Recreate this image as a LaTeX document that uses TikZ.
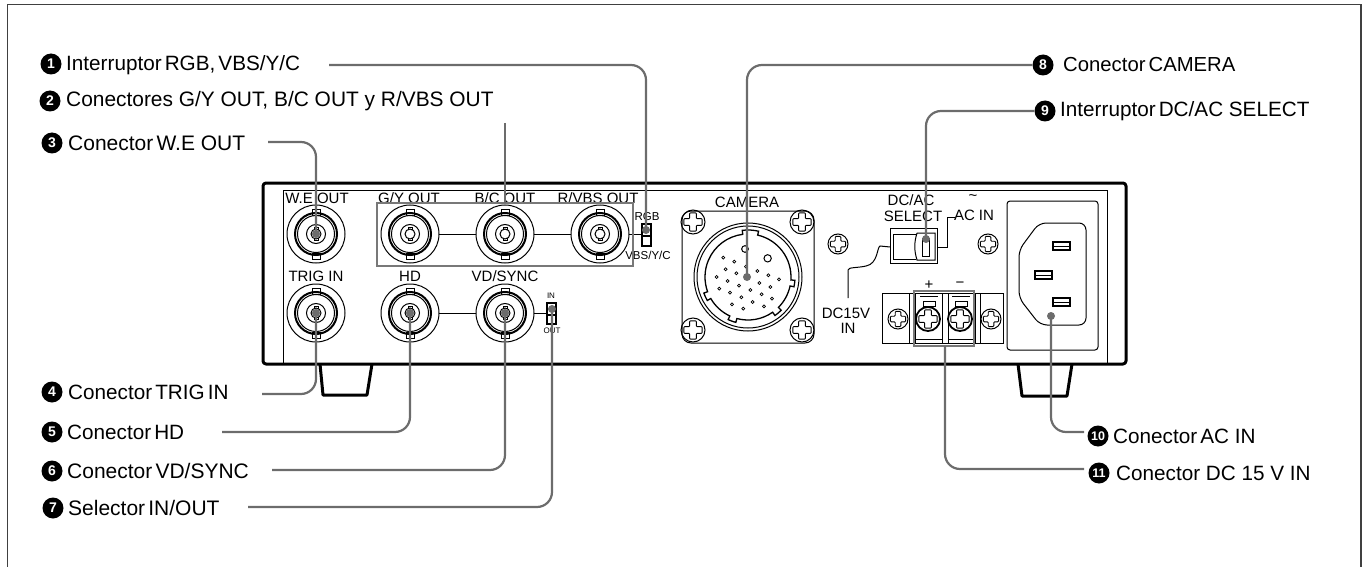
\documentclass[tikz,border=0pt]{standalone}
\usepackage{fontspec}
\setmainfont{Liberation Sans}
\newcommand{\fs}[1]{\fontsize{#1}{#1}\selectfont}
\newcommand{\nsp}{\kern .15em\relax}
\tikzset{
  x=1pt,y=-1pt,
  thinl/.style={draw=black,line width=1pt},
  chassis/.style={draw=black,line width=3pt,line join=round},
  leader/.style={draw=leadgray,line width=2.2pt,rounded corners=15pt},
  groupbox/.style={draw=boxgray,line width=2.5pt},
  dot/.style={circle,fill=leadgray,inner sep=0pt,minimum size=8pt},
  numdot/.style={circle,fill=black,text=white,inner sep=0pt,minimum size=21pt,font=\fs{14}\bfseries},
  numdotb/.style={numdot,font=\fs{12.5}\bfseries},
  lbl/.style={anchor=west,inner sep=0pt,font=\fs{20.7}},
  part/.style={inner sep=0pt,font=\fs{15}},
  small/.style={inner sep=0pt,font=\fs{11.5}},
  tiny/.style={inner sep=0pt,font=\fs{8}},
}
\definecolor{leadgray}{HTML}{6C6C6C}
\definecolor{boxgray}{HTML}{787878}
\newcommand{\bncon}[3]{%
  \begin{scope}[shift={(#2,#3)}]
    \draw[thinl] (-4,-25) rectangle (4,-19) (-4,19) rectangle (4,25);
    \draw[thinl,fill=white] (0,0) circle[radius=18.5];
    \draw[thinl] (0,0) circle[radius=29];
    \draw[draw=black,line width=2pt] (0,0) circle[radius=21];
    \draw[thinl] (0,0) circle[radius=9.5];
    \draw[thinl] (-2,-6.5) rectangle (2,-4.5) (-2,4.5) rectangle (2,6.5);
    \draw[thinl,fill=white] (0,0) circle[radius=5];
    \coordinate (#1) at (0,0);
  \end{scope}}
\newcommand{\screw}[4]{% x y r width
  \begin{scope}[shift={(#1,#2)},scale=#3]
    \draw[draw=black,line width=#4pt] (0,0) circle[radius=1];
    \draw[draw=black,line width=0.9pt,rounded corners=0.8pt,line join=round]
      (-.28,-.76)--(.28,-.76)--(.28,-.28)--(.76,-.28)--(.76,.28)--(.28,.28)--(.28,.76)--(-.28,.76)--(-.28,.28)--(-.76,.28)--(-.76,-.28)--(-.28,-.28)--cycle;
  \end{scope}}
\begin{document}
\begin{tikzpicture}
\useasboundingbox (0,0) rectangle (1363,567);
\draw[draw=black!75,line width=1.5pt] (7.5,569) -- (7.5,4.5) -- (1361,4.5) -- (1361,569);
% feet
\draw[chassis] (320,364) -- (323,395) -- (367,395) -- (372,364);
\draw[chassis] (1018,364) -- (1022,396) -- (1067,396) -- (1072,364);
% body
\draw[chassis,rounded corners=3pt,fill=white] (263,183) rectangle (1126,364);
\draw[thinl] (283,364) -- (283,190) -- (1107,190) -- (1107,364);
% BNC connectors
\bncon{we}{316}{234}
\bncon{gy}{410}{234}
\bncon{bc}{505}{234}
\bncon{rv}{600}{234}
\bncon{tr}{316}{313}
\bncon{hd}{410}{313}
\bncon{vd}{505}{313}
\draw[thinl] (439,234) -- (476,234) (534,234) -- (571,234) (629,234) -- (642,234);
\draw[thinl] (439,313) -- (476,313) (534,313) -- (547,313)  ;
% labels on the panel
\node[part] (twe) at (317,198) {W.E OUT};
\node[part] (tgy) at (409,198) {G/Y OUT};
\node[part] (tbc) at (505,198) {B/C OUT};
\node[part] (trv) at (598,198) {R/VBS OUT};
\node[part] (ttr) at (316,276) {TRIG IN};
\node[part] (thd) at (410,276) {HD};
\node[part] (tvd) at (505,276) {VD/SYNC};
\node[small] (trgb) at (647,217) {RGB};
\node[small] (tvbs) at (648,255) {VBS/Y/C};
\node[tiny] (tin) at (551,296) {IN};
\node[tiny] (tout) at (552,331) {OUT};
\draw[groupbox] (377,203) rectangle (633,266);
% slide switches
\draw[draw=black,line width=1.3pt] (642,224) rectangle (651,246) (642,236) -- (651,236);
\draw[draw=black,line width=1.3pt] (547,303) rectangle (556,324) (547,315) -- (556,315);
% camera connector
\node[part] (tcam) at (747,202) {CAMERA};
\draw[thinl,rounded corners=9pt] (682,211) rectangle (814,343);
\draw[thinl] (748,277) circle[radius=54] (748,277) circle[radius=51];
\begin{scope}[shift={(748,277)},y=1pt]
\draw[draw=black,line width=1.3pt]
  (77:47) arc[start angle=77,end angle=97,radius=47] -- (97:43)
  arc[start angle=97,end angle=200,radius=43] -- (200:47)
  arc[start angle=200,end angle=210,radius=47] -- (210:43)
  arc[start angle=210,end angle=245,radius=43] -- (245:47)
  arc[start angle=245,end angle=255,radius=47] -- (255:43)
  arc[start angle=255,end angle=305,radius=43] -- (305:47)
  arc[start angle=305,end angle=315,radius=47] -- (315:43)
  arc[start angle=315,end angle=348,radius=43] -- (348:47)
  arc[start angle=348,end angle=356,radius=47] -- (356:43)
  arc[start angle=356,end angle=437,radius=43] -- cycle;
\end{scope}
\begin{scope}[shift={(660,170)},x=0.3333pt,y=-0.3333pt]
\foreach \a/\b in {190/263,223/275,197/298,229/310,258/290,292/303,325/316,357/328,170/321,203/333,237/347,271/360,305/373,336/386,298/339,331/351,178/356,210/368,244/382,278/396,312/409,216/403,250/416}
  \draw[draw=black,line width=0.7pt] (\a,\b) circle[radius=4.5];
\draw[thinl] (255,237) circle[radius=10] (323,265) circle[radius=11];
\end{scope}
\screw{693}{222}{12}{1}
\screw{802}{222}{12}{1}
\screw{693}{330}{12}{1}
\screw{802}{330}{12}{1}
\screw{838}{244}{10}{1}
\screw{988}{244}{10}{1}
% DC/AC switch
\node[part] (tdc) at (911,200) {DC/AC};
\node[part] (tsel) at (913,216) {SELECT};
\node[part] (ttil) at (973,198) {\textasciitilde};
\node[part] (tac) at (974,215) {AC IN};
\draw[thinl] (890,228) rectangle (937,263);
\draw[thinl] (893,234) -- (916,234) (893,259) -- (916,259) (893,234) -- (893,259);
\draw[thinl,fill=white] (917,233) -- (935,233) -- (935,260) -- (917,260) .. controls (914,250) and (914,243) .. (917,233);
\draw[thinl] (922.5,238) rectangle (929,256);
\coordinate (swr) at (937,247);
\coordinate (swl) at (890,247);
\draw[thinl] (swr) -| (947,217) -- (955,217);
\draw[thinl] (swl) -- (880,246) .. controls (877,247) and (878,264) .. (866,266) .. controls (858,268) and (848,267) .. (848,270) -- (848,298);
\node[part] (tdcv) at (846,313) {DC15V};
\node[part] (tdcin) at (848,328) {IN};
% terminal block
\draw[thinl] (882,293) rectangle (1003,343);
\draw[thinl] (909,293) -- (909,343) (915,293) -- (915,343) (942,293) -- (942,343) (948,293) -- (948,343) (975,293) -- (975,343) (980,293) -- (980,343);
\draw[thinl] (915,339) -- (942,339) (948,339) -- (975,339);
\draw[thinl] (920,296) -- (938,296) (952,296) -- (970,296);
\draw[thinl] (923,301) rectangle (935,306) (955,301) rectangle (967,306);
\screw{898}{319}{10}{1}
\fill[white] (928,319) circle[radius=12] (960,319) circle[radius=12];
\screw{928}{319}{12}{1.8}
\screw{960}{319}{12}{1.8}
\screw{991}{319}{10}{1}
\node[part] (tplus) at (929,285) {+};
\node[part] (tminus) at (960,285) {−};
\draw[groupbox] (914,291) rectangle (974,346);
\coordinate (tb) at (945,346);
% AC inlet
\draw[thinl,rounded corners=3pt] (1007,201) rectangle (1098,350);
\draw[thinl,rounded corners=7pt] (1039,223) -- (1086,223) -- (1086,325) -- (1040,325) -- (1019,298) -- (1019,250) -- cycle;
\foreach \a/\b in {1053/242,1035/271,1053/298}{
  \draw[draw=black,line width=1.3pt] (\a,\b) rectangle ++(17,8);
  \draw[thinl] (\a+1,\b+4) -- ++(15,0);
}
% dots
\node[dot] (d1) at (646,230) {};
\node[dot] (d3) at (316,234) {};
\node[dot] (d4) at (316,313) {};
\node[dot] (d5) at (410,313) {};
\node[dot] (d6) at (505,313) {};
\node[dot] (d7) at (552,309) {};
\node[dot] (d8) at (747,277) {};
\node[dot] (d9) at (926,239) {};
\node[dot] (d10) at (1051,316) {};
% callouts
\node[numdot] (n1) at (51,64) {1};
\node[lbl] (l1) at (66,65) {Interruptor\nsp RGB,\nsp VBS/Y/C};
\node[numdot] (n2) at (50,101) {2};
\node[lbl,font=\fs{20.9}] (l2) at (66,101) {Conectores G/Y OUT, B/C OUT y R/VBS OUT};
\node[numdot] (n3) at (52,143) {3};
\node[lbl,font=\fs{21}] (l3) at (68,143) {Conector\nsp W.E OUT};
\node[numdot] (n4) at (52,392) {4};
\node[lbl] (l4) at (68,392) {Conector\nsp TRIG\nsp IN};
\node[numdot] (n5) at (52,432) {5};
\node[lbl] (l5) at (67,432) {Conector\nsp HD};
\node[numdot] (n6) at (52,471) {6};
\node[lbl,font=\fs{21}] (l6) at (67,471) {Conector\nsp VD/SYNC};
\node[numdot] (n7) at (53,508) {7};
\node[lbl,font=\fs{21}] (l7) at (68,508) {Selector\nsp IN/OUT};
\node[numdot] (n8) at (1043,65) {8};
\node[lbl,font=\fs{20.3}] (l8) at (1063,65) {Conector\nsp CAMERA};
\node[numdot] (n9) at (1045,111) {9};
\node[lbl] (l9) at (1060,111) {Interruptor\nsp DC/AC SELECT};
\node[numdotb] (n10) at (1098,436) {10};
\node[lbl] (l10) at (1113,436) {Conector\nsp AC IN};
\node[numdotb] (n11) at (1099,473) {11};
\node[lbl] (l11) at (1116,473) {Conector DC 15 V IN};
% leaders
\coordinate (s1) at (329,65);
\coordinate (s2) at (505,123);
\coordinate (e2) at (505,203);
\coordinate (s3) at (268,142);
\coordinate (s4) at (262,394);
\coordinate (s5) at (222,432);
\coordinate (s6) at (272,470);
\coordinate (s7) at (248,507);
\coordinate (s10) at (1084,432);
\coordinate (s11) at (1084,469);
\draw[leader] (s1) -| (d1.center);
\draw[leader] (s2) -- (e2);
\draw[leader] (s3) -| (d3.center);
\draw[leader] (s4) -| (d4.center);
\draw[leader] (s5) -| (d5.center);
\draw[leader] (s6) -| (d6.center);
\draw[leader] (s7) -| (d7.center);
\draw[leader] (n8.west) -| (d8.center);
\draw[leader] (n9.west) -| (d9.center);
\draw[leader] (s10) -| (d10.center);
\draw[leader] (s11) -| (tb);
\end{tikzpicture}
\end{document}
